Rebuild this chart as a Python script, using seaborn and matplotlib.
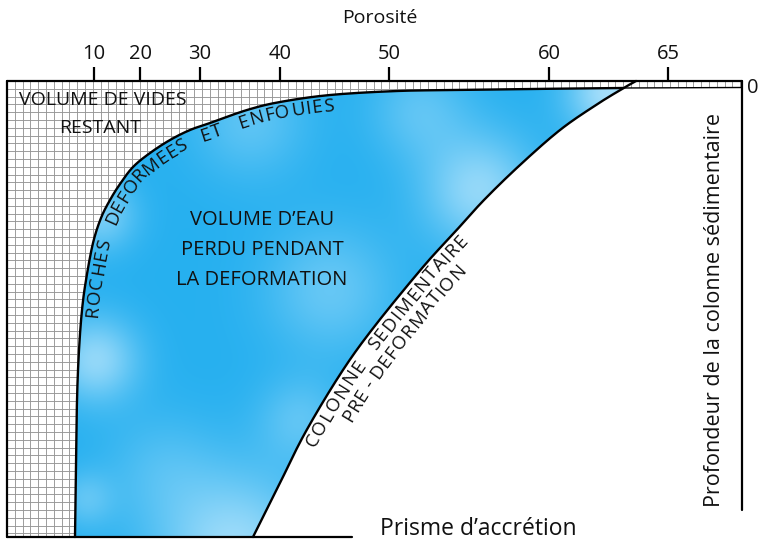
import numpy as np
import pandas as pd
import matplotlib
matplotlib.use("Agg")
import matplotlib.pyplot as plt
from matplotlib.patches import Polygon
import seaborn as sns

# porosity ticks on the top axis (label, horizontal position on the sketch)
porosity_labels = ["10", "20", "30", "40", "50", "60", "65"]
porosity_x = [94, 140, 200, 280, 389, 549, 668]

# deformed and buried rocks curve (bottom -> top right)
deformed_x = [75, 76, 77, 79, 82, 86, 93, 101, 110, 120, 133, 150, 170, 190, 210, 247, 280, 330, 397, 460, 530, 623]
deformed_y = [537, 470, 400, 350, 310, 280, 243, 218, 200, 184, 167, 153, 140, 130, 123, 110, 102, 95, 91, 90, 89, 88]

# pre-deformation sedimentary column (bottom -> top right)
column_x = [253, 279, 305, 341, 374, 423, 454, 484, 520, 560, 596, 622, 636]
column_y = [537, 485, 433, 373, 327, 267, 233, 200, 165, 130, 105, 89, 81]

FONT = ["Open Sans", "DejaVu Sans"]
INK = "#111111"
W, H = 761, 545
LEFT, RIGHT, TOP, BOTTOM = 7, 742, 81, 537
STRIP = 88


def smooth(xs, ys, n=20):
    # catmull-rom through the read points
    p = np.column_stack([xs, ys]).astype(float)
    p = np.vstack([p[0], p, p[-1]])
    t = np.linspace(0, 1, n, endpoint=False)[:, None]
    out = []
    for i in range(1, len(p) - 2):
        p0, p1, p2, p3 = p[i - 1], p[i], p[i + 1], p[i + 2]
        out.append(0.5 * (2 * p1 + (-p0 + p2) * t
                          + (2 * p0 - 5 * p1 + 4 * p2 - p3) * t ** 2
                          + (-p0 + 3 * p1 - 3 * p2 + p3) * t ** 3))
    out.append(p[-2][None])
    return np.vstack(out)


def curve_text(ax, pts, text, start, end, offset, size):
    d = np.diff(pts, axis=0)
    s = np.concatenate([[0], np.cumsum(np.hypot(d[:, 0], d[:, 1]))])
    s0 = s[np.argmin(np.hypot(pts[:, 0] - start[0], pts[:, 1] - start[1]))]
    s1 = s[np.argmin(np.hypot(pts[:, 0] - end[0], pts[:, 1] - end[1]))]
    r = ax.figure.canvas.get_renderer()

    def width(txt):
        t = ax.text(0, 0, "I" + txt + "I", fontsize=size, family=FONT)
        w = t.get_window_extent(r).width
        t.remove()
        return w

    # prefix widths keep the kerning of the whole string
    pre = np.array([width(text[:i]) for i in range(len(text) + 1)])
    adv = np.diff(pre)
    scale = (s1 - s0) / adv.sum()
    centers = s0 + scale * (np.cumsum(adv) - adv / 2)
    for c, sc in zip(text, centers):
        if c == " ":
            continue
        x = np.interp(sc, s, pts[:, 0])
        y = np.interp(sc, s, pts[:, 1])
        dx = np.interp(sc + 3, s, pts[:, 0]) - np.interp(sc - 3, s, pts[:, 0])
        dy = np.interp(sc + 3, s, pts[:, 1]) - np.interp(sc - 3, s, pts[:, 1])
        n = np.hypot(dx, dy)
        nx, ny = -dy / n, dx / n
        ang = np.degrees(np.arctan2(-dy, dx))
        ax.text(x + offset * nx, y + offset * ny, c, fontsize=size, family=FONT,
                rotation=ang, rotation_mode="anchor", ha="center", va="center",
                color=INK, zorder=6)


sns.set_theme(style="white")
plt.rcParams["font.family"] = FONT

fig = plt.figure(figsize=(W / 100, H / 100), dpi=100)
ax = fig.add_axes([0, 0, 1, 1])

deformed = smooth(deformed_x, deformed_y)
column = smooth(column_x, column_y)

# hatched region: remaining pore volume
hatch_poly = np.vstack([[[LEFT, TOP], [RIGHT, TOP], [RIGHT, STRIP - 0.5]],
                        deformed[::-1], [[LEFT, BOTTOM]]])
hatch = Polygon(hatch_poly, closed=True, fc="white", ec="none", zorder=1)
ax.add_patch(hatch)
step = 7.8
gx = np.arange(LEFT, RIGHT, step)
gy = np.arange(TOP, BOTTOM + 1, step)
vl = ax.vlines(gx, TOP, BOTTOM, colors="#969696", lw=0.65, zorder=2)
hl = ax.hlines(gy, LEFT, RIGHT, colors="#969696", lw=0.65, zorder=2)
vl.set_clip_path(hatch)
hl.set_clip_path(hatch)

# blue region: water lost during deformation
col_part = column[column[:, 1] >= STRIP + 0.5]
blue_poly = np.vstack([deformed, col_part[::-1]])
blue = Polygon(blue_poly, closed=True, fc="none", ec="none", zorder=1)
ax.add_patch(blue)
xx, yy = np.meshgrid(np.linspace(60, 650, 300), np.linspace(75, 545, 240))
light = np.zeros_like(xx)
for bx, by, br, ba in [(95, 360, 30, 0.6), (100, 215, 25, 0.45), (235, 550, 55, 0.65),
                       (480, 190, 40, 0.6), (610, 92, 30, 0.7), (330, 290, 45, 0.35),
                       (250, 120, 40, 0.3), (160, 470, 40, 0.2), (420, 110, 35, 0.3),
                       (300, 420, 30, 0.3), (85, 500, 20, 0.3)]:
    light += ba * np.exp(-((xx - bx) ** 2 + (yy - by) ** 2) / (2 * br ** 2))
light = np.clip(light, 0, 0.8)[..., None]
base = np.array([0.15, 0.69, 0.94])
img = base * (1 - light) + np.array([0.86, 0.95, 1.0]) * light
im = ax.imshow(img, extent=(60, 650, 545, 75), origin="upper", zorder=1, interpolation="bilinear")
im.set_clip_path(blue)

# curves
df_def = pd.DataFrame({"x": deformed[:, 0], "y": deformed[:, 1]})
df_col = pd.DataFrame({"x": column[:, 0], "y": column[:, 1]})
sns.lineplot(data=df_def, x="x", y="y", sort=False, estimator=None, color="black", lw=1.7, ax=ax, zorder=4)
sns.lineplot(data=df_col, x="x", y="y", sort=False, estimator=None, color="black", lw=1.7, ax=ax, zorder=4)
ax.plot([deformed[-1, 0], RIGHT], [STRIP, STRIP - 0.5], color="black", lw=1.0, zorder=4)

# frame
ax.plot([LEFT, LEFT], [TOP, BOTTOM], color="black", lw=1.6, zorder=5)
ax.plot([LEFT, RIGHT], [TOP, TOP], color="black", lw=1.6, zorder=5)
ax.plot([RIGHT, RIGHT], [TOP, 510], color="black", lw=1.6, zorder=5)
ax.plot([LEFT, 352], [BOTTOM, BOTTOM], color="black", lw=1.6, zorder=5)

# top porosity axis
ax.vlines(porosity_x, 67, TOP, colors="black", lw=1.6, zorder=5)
for px, lab in zip(porosity_x, porosity_labels):
    ax.text(px, 54, lab, ha="center", va="center", fontsize=14.5, color=INK)
ax.text(380, 18, "Porosité", ha="center", va="center", fontsize=14, color=INK)
ax.text(753, 88, "0", ha="center", va="center", fontsize=14.5, color=INK)
ax.text(715, 310, "Profondeur de la colonne sédimentaire", rotation=90,
        ha="center", va="center", fontsize=15.5, color=INK)
ax.text(380, 529, "Prisme d’accrétion", ha="left", va="center", fontsize=16.5, color=INK)

ax.text(103, 100, "VOLUME DE VIDES", ha="center", va="center", fontsize=14, color=INK, zorder=6)
ax.text(100, 128, "RESTANT", ha="center", va="center", fontsize=14, color=INK, zorder=6)
for ty, line in zip([220, 250, 280], ["VOLUME D’EAU", "PERDU PENDANT", "LA DEFORMATION"]):
    ax.text(262, ty, line, ha="center", va="center", fontsize=14.5, color=INK, zorder=6)

curve_text(ax, deformed, "ROCHES   DEFORMEES   ET   ENFOUIES", (82, 318), (333, 95), 11, 13.5)
curve_text(ax, column, "COLONNE   SEDIMENTAIRE", (303, 442), (458, 230), 11, 13.5)
curve_text(ax, column, "PRE - DEFORMATION", (330, 412), (448, 252), 30, 13.5)

ax.set_xlim(0, W)
ax.set_ylim(H, 0)
ax.axis("off")
fig.savefig("out.png", dpi=100)
